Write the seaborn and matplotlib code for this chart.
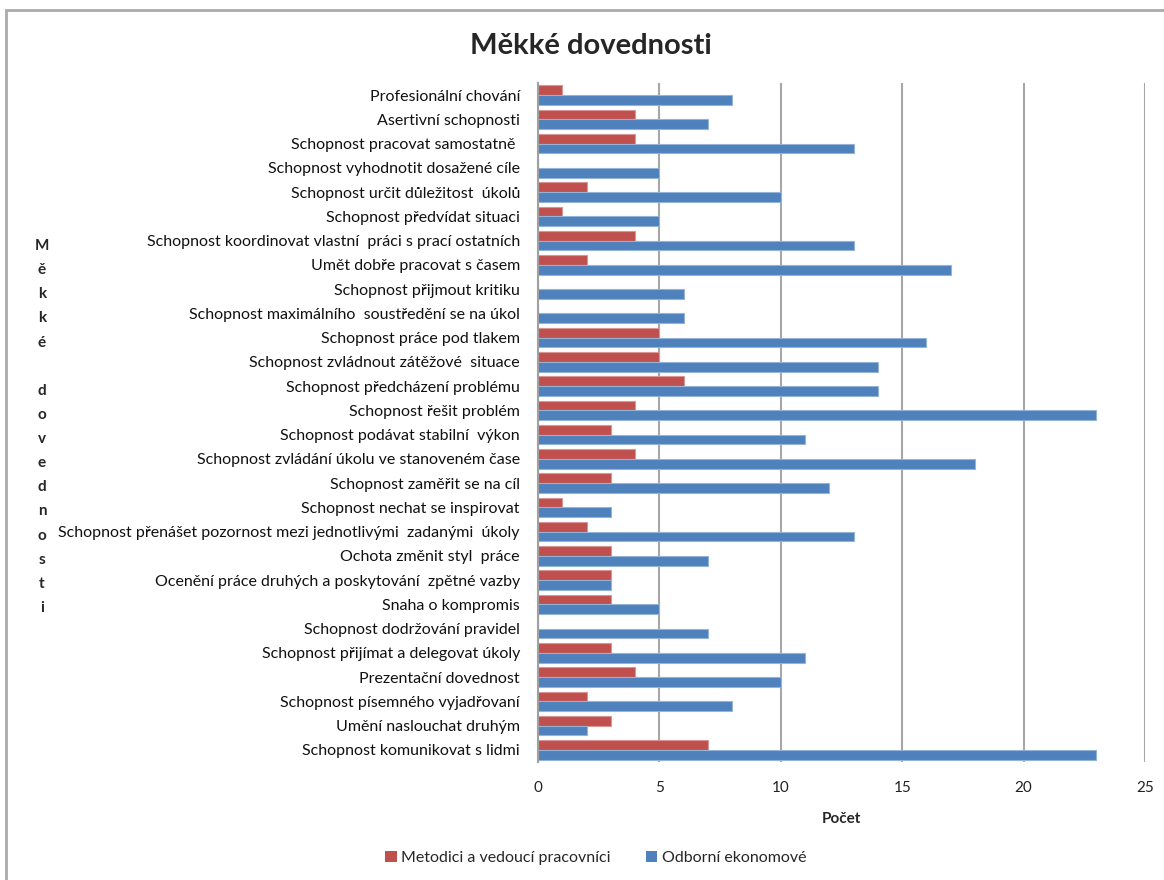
import matplotlib
matplotlib.use("Agg")
import matplotlib.pyplot as plt
from matplotlib.patches import Patch, Rectangle
import seaborn as sns
import pandas as pd

categories = [
    "Profesionální chování",
    "Asertivní schopnosti",
    "Schopnost pracovat samostatně ",
    "Schopnost vyhodnotit dosažené cíle",
    "Schopnost určit důležitost  úkolů",
    "Schopnost předvídat situaci",
    "Schopnost koordinovat vlastní  práci s prací ostatních",
    "Umět dobře pracovat s časem",
    "Schopnost přijmout kritiku",
    "Schopnost maximálního  soustředění se na úkol",
    "Schopnost práce pod tlakem",
    "Schopnost zvládnout zátěžové  situace",
    "Schopnost předcházení problému",
    "Schopnost řešit problém",
    "Schopnost podávat stabilní  výkon",
    "Schopnost zvládání úkolu ve stanoveném čase",
    "Schopnost zaměřit se na cíl",
    "Schopnost nechat se inspirovat",
    "Schopnost přenášet pozornost mezi jednotlivými  zadanými  úkoly",
    "Ochota změnit styl  práce",
    "Ocenění práce druhých a poskytování  zpětné vazby",
    "Snaha o kompromis",
    "Schopnost dodržování pravidel",
    "Schopnost přijímat a delegovat úkoly",
    "Prezentační dovednost",
    "Schopnost písemného vyjadřovaní",
    "Umění naslouchat druhým",
    "Schopnost komunikovat s lidmi",
]
metodici = [1, 4, 4, 0, 2, 1, 4, 2, 0, 0, 5, 5, 6, 4, 3, 4, 3, 1, 2, 3, 3, 3, 0, 3, 4, 2, 3, 7]
ekonomove = [8, 7, 13, 5, 10, 5, 13, 17, 6, 6, 16, 14, 14, 23, 11, 18, 12, 3, 13, 7, 3, 5, 7, 11, 10, 8, 2, 23]
series_names = ["Metodici a vedoucí pracovníci", "Odborní ekonomové"]
series_colors = ["#C0504D", "#4F81BD"]
edge_colors = ["#D99694", "#95B3D7"]
x_ticks = [0, 5, 10, 15, 20, 25]
title = "Měkké dovednosti"
x_label = "Počet"
y_label = "Měkké dovednosti"

df = pd.DataFrame({
    "kategorie": categories * 2,
    "pocet": metodici + ekonomove,
    "skupina": [series_names[0]] * len(categories) + [series_names[1]] * len(categories),
})

sns.set_style("white")
plt.rcParams["font.family"] = ["Lato", "DejaVu Sans"]

W, H = 1164, 880
fig = plt.figure(figsize=(W / 100, H / 100), dpi=100)
ax = fig.add_axes([538 / W, 1 - 762 / H, (1145 - 538) / W, (762 - 83) / H])

sns.barplot(data=df, y="kategorie", x="pocet", hue="skupina", hue_order=series_names,
            palette=series_colors, order=categories, orient="h", width=0.8,
            ax=ax, legend=False, saturation=1)

for i, cont in enumerate(ax.containers):
    for bar in cont:
        bar.set_edgecolor(edge_colors[i])
        bar.set_linewidth(0.8)

ax.set_xlim(0, 25)
ax.set_xticks(x_ticks)
ax.set_xticklabels([str(t) for t in x_ticks], fontsize=11, color="#222222")
ax.tick_params(axis="y", labelsize=11.5, length=0, pad=13, labelcolor="#111111")
ax.tick_params(axis="x", length=6, color="#A0A0A0", width=1.5, pad=8)
ax.xaxis.grid(True, color="#A6A6A6", linewidth=1.5)
ax.set_axisbelow(True)
for s in ["top", "right", "bottom"]:
    ax.spines[s].set_visible(False)
ax.spines["left"].set_color("#A0A0A0")
ax.spines["left"].set_linewidth(1.5)

ax.set_xlabel(x_label, fontsize=11, fontweight="bold", labelpad=12)
ax.set_ylabel("\n".join(y_label), rotation=0, fontsize=11, fontweight="bold",
              linespacing=1.92, va="center", ha="center")
ax.yaxis.set_label_coords((42 - 538) / (1145 - 538), 1 - (427 - 83) / (762 - 83))

fig.text(591 / W, 1 - 46 / H, title, fontsize=21, fontweight="bold", ha="center", va="center")

handles = [Patch(facecolor=c, edgecolor="none") for c in series_colors]
fig.legend(handles, series_names, loc="center", bbox_to_anchor=(596 / W, 1 - 858 / H),
           ncol=2, frameon=False, fontsize=11.5, handlelength=0.7, handleheight=0.7,
           handletextpad=0.3, columnspacing=2.2)

fig.patches.append(Rectangle((6 / W, -0.1), 1.2, (H - 10) / H + 0.1, transform=fig.transFigure,
                             fill=False, edgecolor="#AAAAAA", linewidth=2))

fig.savefig("out.png", dpi=100)
